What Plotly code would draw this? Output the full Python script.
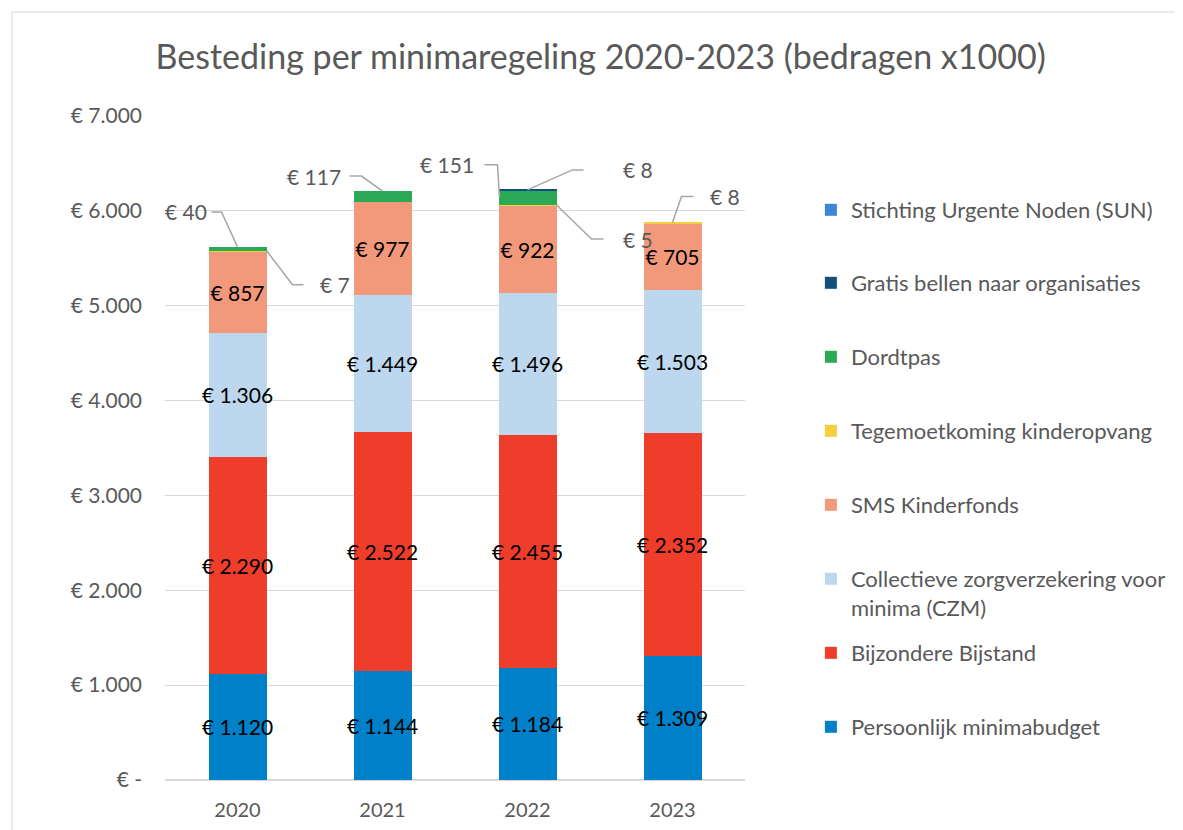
import plotly.graph_objects as go

years = ["2020", "2021", "2022", "2023"]
series_names = [
    "Persoonlijk minimabudget",
    "Bijzondere Bijstand",
    "Collectieve zorgverzekering voor<br>minima (CZM)",
    "SMS Kinderfonds",
    "Tegemoetkoming kinderopvang",
    "Dordtpas",
    "Gratis bellen naar organisaties",
    "Stichting Urgente Noden (SUN)",
]
pmb = [1120, 1144, 1184, 1309]
bijstand = [2290, 2522, 2455, 2352]
czm = [1306, 1449, 1496, 1503]
sms = [857, 977, 922, 705]
tegemoet = [7, 0, 5, 8]
dordtpas = [40, 117, 151, 0]
bellen = [0, 0, 8, 0]
sun = [0, 0, 0, 0]
series_values = [pmb, bijstand, czm, sms, tegemoet, dordtpas, bellen, sun]
colors = ["#0080C8", "#EE3D2B", "#BDD7EE", "#F3997B", "#F4CF3E", "#2BA956", "#134F7C", "#3C86D4"]
inside_label = [True, True, True, True, False, False, False, False]
# legend text centre (screen px) for each series, bottom to top as in the reference
legend_centres = [727, 653, 579, 505, 431, 357, 283, 210]

tick_vals = [0, 1000, 2000, 3000, 4000, 5000, 6000, 7000]
tick_text = ["€ -", "€ 1.000", "€ 2.000", "€ 3.000", "€ 4.000", "€ 5.000", "€ 6.000", "€ 7.000"]

FONT = "Lato"
GRAY = "#595959"
PLOT_TOP, PLOT_H = 108, 664  # figure px


def eur(v):
    return "€ " + f"{v:,}".replace(",", ".")


fig = go.Figure()
legend_layouts = {}
for i, (name, vals, col, lab) in enumerate(zip(series_names, series_values, colors, inside_label)):
    lname = "legend" if i == 0 else f"legend{i + 1}"
    fig.add_trace(go.Bar(
        x=years, y=vals, name=name, marker=dict(color=col, line=dict(width=0)),
        text=[eur(v) for v in vals] if lab else None,
        textposition="inside" if lab else "none",
        insidetextanchor="middle", constraintext="none", textangle=0,
        textfont=dict(family=FONT, size=21, color="black"),
        legend=lname, hoverinfo="x+y+name",
    ))
    top_fig_px = legend_centres[i] - 8 - 21
    legend_layouts[lname] = dict(
        x=1.1136, xanchor="left", y=1 - (top_fig_px - PLOT_TOP) / PLOT_H, yanchor="top",
        font=dict(family=FONT, size=22, color=GRAY), valign="top",
        itemclick=False, bgcolor="rgba(0,0,0,0)", borderwidth=0,
    )

# cumulative tops for callouts
cum = []
running = [0, 0, 0, 0]
for vals in series_values:
    running = [r + v for r, v in zip(running, vals)]
    cum.append(list(running))

# callouts: (series index, year index, anchor frac in segment, path, label dx, dy, xanchor)
callouts = [
    (5, 0, 1.0, "M0,0 L-16,35 L-26,35", -29, 35, "right"),
    (4, 0, 1.0, "M29,0 L55,-34 L66,-34", 80, -34, "left"),
    (5, 1, 1.0, "M0,0 L-21,15 L-33,15", -40, 15, "right"),
    (5, 2, 0.5, "M-28,0 L-30,33 L-43,33", -52, 33, "right"),
    (6, 2, 1.0, "M0,0 L45,20 L56,20", 93, 20, "left"),
    (4, 2, 1.0, "M29,0 L64,-34 L76,-34", 93, -35, "left"),
    (4, 3, 1.0, "M0,0 L9,26 L21,26", 35, 26, "left"),
]
for si, yi, frac, path, dx, dy, xa in callouts:
    val = series_values[si][yi]
    yval = cum[si][yi] - val * (1 - frac)
    fig.add_shape(type="path", xref="x", yref="y", xsizemode="pixel", ysizemode="pixel",
                  xanchor=yi, yanchor=yval, path=path,
                  line=dict(color="#A6A6A6", width=1.5))
    fig.add_annotation(x=yi, y=yval, xref="x", yref="y", text=eur(val),
                       showarrow=False, xshift=dx, yshift=dy, xanchor=xa, yanchor="middle",
                       font=dict(family=FONT, size=21, color=GRAY))

# chart frame
fig.add_shape(type="rect", xref="paper", yref="paper", x0=-0.2638, x1=2.0, y0=-0.3, y1=1.1566,
              line=dict(color="#D9D9D9", width=1), fillcolor="rgba(0,0,0,0)", layer="below")

fig.update_layout(
    width=1183, height=830,
    margin=dict(l=157, r=446, t=108, b=58),
    paper_bgcolor="white", plot_bgcolor="white",
    barmode="stack", bargap=0.6,
    title=dict(text="Besteding per minimaregeling 2020-2023 (bedragen x1000)",
               x=0.501, xanchor="center", y=0.941, yanchor="middle",
               font=dict(family=FONT, size=34, color=GRAY)),
    font=dict(family=FONT, color=GRAY),
    showlegend=True,
    xaxis=dict(type="category", range=[-0.5, 3.5], autorange=False, showgrid=False,
               showline=False, ticks="",
               tickfont=dict(family=FONT, size=20, color=GRAY), ticklabelstandoff=16),
    yaxis=dict(range=[0, 7000], autorange=False, tickvals=tick_vals, ticktext=tick_text,
               showgrid=True, gridcolor="#D9D9D9", gridwidth=1, zeroline=True,
               zerolinecolor="#D9D9D9", zerolinewidth=1.5, showline=False, ticks="",
               tickfont=dict(family=FONT, size=21, color=GRAY), ticklabelstandoff=22),
    **legend_layouts,
)

fig.write_html("out.html")
